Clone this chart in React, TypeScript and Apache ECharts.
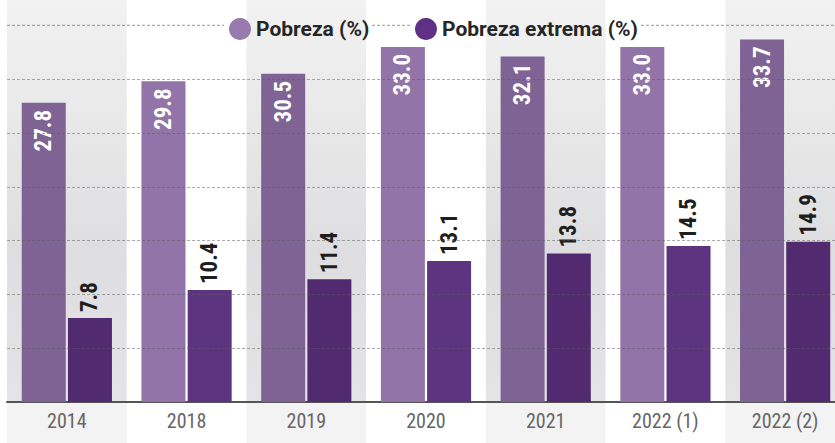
import React, { useEffect, useRef } from "react";
import * as echarts from "echarts";

const categories = ["2014", "2018", "2019", "2020", "2021", "2022 (1)", "2022 (2)"];
const pobreza = [27.8, 29.8, 30.5, 33.0, 32.1, 33.0, 33.7];
const pobrezaExtrema = [7.8, 10.4, 11.4, 13.1, 13.8, 14.5, 14.9];
const seriesNames = ["Pobreza (%)", "Pobreza extrema (%)"];

const NARROW = "'Liberation Sans Narrow', 'Roboto Condensed', 'DejaVu Sans Condensed', Roboto, sans-serif";

export default function App() {
  const ref = useRef<HTMLDivElement>(null);
  useEffect(() => {
    document.body.style.margin = "0";
    const chart = echarts.init(ref.current!, null, { renderer: "svg" });
    const bandGray = new echarts.graphic.LinearGradient(0, 0, 0, 1, [
      { offset: 0, color: "#f6f6f6" },
      { offset: 0.066, color: "#f2f2f2" },
      { offset: 0.65, color: "#dedee0" },
      { offset: 1, color: "#e4e4e6" },
    ]);
    const lightColors = ["#7f6394", "#9274a8"];
    const darkColors = ["#522a70", "#5c347f"];
    const grid = "rgba(90,90,90,0.5)";
    const none = "rgba(0,0,0,0)";
    const splitColors = [none, grid, grid, grid, grid, grid, grid, none, none];
    chart.setOption({
      animation: false,
      backgroundColor: "#ffffff",
      grid: [
        { left: 7, right: -10, top: -28.4, bottom: 41, containLabel: false, outerBoundsMode: "none" },
        { left: 7, right: -10, top: 402, bottom: 0, containLabel: false, outerBoundsMode: "none" },
      ],
      legend: [
        {
          data: [{ name: seriesNames[0], itemStyle: { color: "#977bad" } }],
          left: 224, top: 13, icon: "circle", itemWidth: 22, itemHeight: 22,
          textStyle: { fontFamily: "Roboto, sans-serif", fontWeight: "bold", fontSize: 21, color: "#262626" },
        },
        {
          data: [{ name: seriesNames[1], itemStyle: { color: "#5e3186" } }],
          left: 410, top: 13, icon: "circle", itemWidth: 22, itemHeight: 22,
          textStyle: { fontFamily: "Roboto, sans-serif", fontWeight: "bold", fontSize: 21, color: "#262626" },
        },
      ],
      xAxis: [
        {
          type: "category",
          gridIndex: 0,
          data: categories,
          z: 1,
          axisLine: { onZero: false, lineStyle: { color: "#555", width: 2 } },
          axisTick: { show: false },
          axisLabel: { color: "#666", fontSize: 20, fontFamily: NARROW, margin: 9 },
          splitArea: { show: true, areaStyle: { color: [bandGray, "rgba(255,255,255,0)"] } },
        },
        {
          type: "category",
          gridIndex: 1,
          data: categories,
          z: 0,
          axisLine: { show: false },
          axisTick: { show: false },
          axisLabel: { show: false },
          splitArea: { show: true, areaStyle: { color: ["#f3f3f3", "rgba(255,255,255,0)"] } },
        },
      ],
      yAxis: [
        {
          type: "value",
          gridIndex: 0,
          min: 0,
          max: 40,
          interval: 5,
          z: 5,
          axisLabel: { show: false },
          axisLine: { show: false },
          axisTick: { show: false },
          splitLine: { show: true, lineStyle: { color: splitColors, type: [3, 2], width: 1.2 } },
        },
        {
          type: "value",
          gridIndex: 1,
          min: 0,
          max: 1,
          show: false,
          splitLine: { show: false },
        },
      ],
      series: [
        {
          name: seriesNames[0],
          type: "bar",
          xAxisIndex: 0,
          yAxisIndex: 0,
          barWidth: 44,
          barGap: "5%",
          itemStyle: { color: "#8f72a5" },
          data: pobreza.map((v, i) => ({ value: v, itemStyle: { color: lightColors[i % 2] } })),
          label: {
            show: true,
            position: "insideTop",
            rotate: 90,
            align: "right",
            verticalAlign: "middle",
            distance: 7,
            color: "#ffffff",
            fontFamily: NARROW,
            fontWeight: "bold",
            fontSize: 23,
            formatter: (p: any) => Number(p.value).toFixed(1),
          },
        },
        {
          name: seriesNames[1],
          type: "bar",
          xAxisIndex: 0,
          yAxisIndex: 0,
          barWidth: 44,
          barGap: "5%",
          itemStyle: { color: "#5a3280" },
          data: pobrezaExtrema.map((v, i) => ({ value: v, itemStyle: { color: darkColors[i % 2] } })),
          label: {
            show: true,
            position: "top",
            rotate: 90,
            align: "left",
            verticalAlign: "middle",
            distance: 6,
            color: "#1e1e1e",
            fontFamily: NARROW,
            fontWeight: "bold",
            fontSize: 23,
            formatter: (p: any) => Number(p.value).toFixed(1),
          },
        },
      ],
    });
    const y35 = chart.convertToPixel({ yAxisIndex: 0 }, 35) as number;
    const dashStyle = { stroke: grid, lineWidth: 1.2, lineDash: [3, 2] };
    chart.setOption({
      graphic: [
        { type: "line", z: 1, shape: { x1: 7, y1: y35, x2: 224, y2: y35 }, style: dashStyle, silent: true },
        { type: "line", z: 1, shape: { x1: 372, y1: y35, x2: 410, y2: y35 }, style: dashStyle, silent: true },
        { type: "line", z: 1, shape: { x1: 641, y1: y35, x2: 835, y2: y35 }, style: dashStyle, silent: true },
      ],
    });
    return () => chart.dispose();
  }, []);
  return <div ref={ref} style={{ width: 835, height: 443 }} />;
}
